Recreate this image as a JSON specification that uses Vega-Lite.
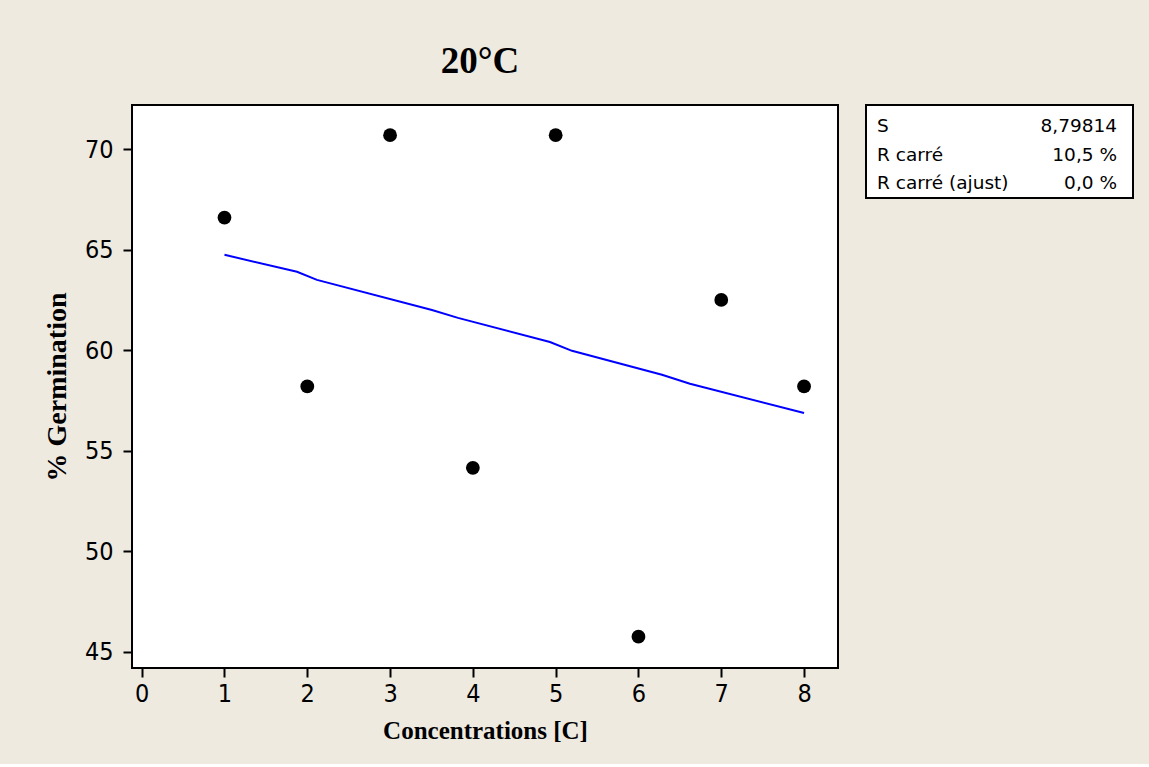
{
  "$schema": "https://vega.github.io/schema/vega-lite/v6.json",
  "background": "#EEEAE0",
  "padding": {"left": 42, "top": 42, "right": 16, "bottom": 20},
  "bounds": "flush",
  "spacing": 28,
  "datasets": {
    "points": [
      {"concentration": 1, "germination": 66.6},
      {"concentration": 2, "germination": 58.2},
      {"concentration": 3, "germination": 70.7},
      {"concentration": 4, "germination": 54.15},
      {"concentration": 5, "germination": 70.7},
      {"concentration": 6, "germination": 45.75},
      {"concentration": 7, "germination": 62.5},
      {"concentration": 8, "germination": 58.2}
    ],
    "fit": [
      {"concentration": 1.0, "germination": 64.75},
      {"concentration": 1.876, "germination": 63.9},
      {"concentration": 2.117, "germination": 63.5},
      {"concentration": 3.506, "germination": 62.0},
      {"concentration": 3.82, "germination": 61.61},
      {"concentration": 4.931, "germination": 60.41},
      {"concentration": 5.197, "germination": 59.97},
      {"concentration": 6.284, "germination": 58.78},
      {"concentration": 6.622, "germination": 58.33},
      {"concentration": 8.0, "germination": 56.88}
    ],
    "stats": [
      {"row": 1, "label": "S", "value": "8,79814"},
      {"row": 2, "label": "R carré", "value": "10,5 %"},
      {"row": 3, "label": "R carré (ajust)", "value": "0,0 %"}
    ]
  },
  "config": {
    "view": {"stroke": "black", "strokeWidth": 2, "fill": "white"},
    "axis": {
      "grid": false,
      "domain": false,
      "ticks": true,
      "tickColor": "black",
      "tickWidth": 2,
      "tickSize": 9,
      "labelColor": "black",
      "labelFont": "DejaVu Sans Condensed",
      "labelFontSize": 25,
      "titleColor": "black",
      "titleFont": "Liberation Serif",
      "titleFontWeight": "bold",
      "titleFontSize": 25
    }
  },
  "hconcat": [
    {
      "width": 706,
      "height": 563,
      "title": {
        "text": "20°C",
        "font": "Liberation Serif",
        "fontSize": 37,
        "fontWeight": "bold",
        "color": "black",
        "anchor": "middle",
        "dx": -5,
        "offset": 24
      },
      "layer": [
        {
          "data": {"name": "fit"},
          "mark": {"type": "line", "color": "#0000FF", "strokeWidth": 2},
          "encoding": {
            "x": {
              "field": "concentration",
              "type": "quantitative",
              "scale": {"domain": [-0.117, 8.41], "nice": false, "zero": false},
              "axis": {"title": "Concentrations [C]", "values": [0, 1, 2, 3, 4, 5, 6, 7, 8], "format": "d", "labelPadding": 4, "titlePadding": 12}
            },
            "y": {
              "field": "germination",
              "type": "quantitative",
              "scale": {"domain": [44.19, 72.2], "nice": false, "zero": false},
              "axis": {"title": "% Germination", "titleFontSize": 28, "values": [45, 50, 55, 60, 65, 70], "labelPadding": 10, "titlePadding": 13}
            }
          }
        },
        {
          "data": {"name": "points"},
          "mark": {"type": "circle", "color": "black", "opacity": 1, "size": 190},
          "encoding": {
            "x": {"field": "concentration", "type": "quantitative"},
            "y": {"field": "germination", "type": "quantitative"}
          }
        }
      ]
    },
    {
      "width": 267,
      "height": 93,
      "data": {"name": "stats"},
      "encoding": {
        "y": {
          "field": "row",
          "type": "quantitative",
          "scale": {"domain": [0.27, 3.505], "reverse": true, "nice": false, "zero": false},
          "axis": null
        }
      },
      "layer": [
        {
          "mark": {"type": "text", "align": "left", "baseline": "middle", "font": "DejaVu Sans", "fontSize": 18.5, "color": "black", "dx": 11},
          "encoding": {
            "x": {"datum": 0, "type": "quantitative", "scale": {"domain": [0, 1], "nice": false, "zero": false}, "axis": null},
            "text": {"field": "label"}
          }
        },
        {
          "mark": {"type": "text", "align": "right", "baseline": "middle", "font": "DejaVu Sans", "fontSize": 18.5, "color": "black", "dx": -16},
          "encoding": {
            "x": {"datum": 1, "type": "quantitative"},
            "text": {"field": "value"}
          }
        }
      ]
    }
  ]
}
